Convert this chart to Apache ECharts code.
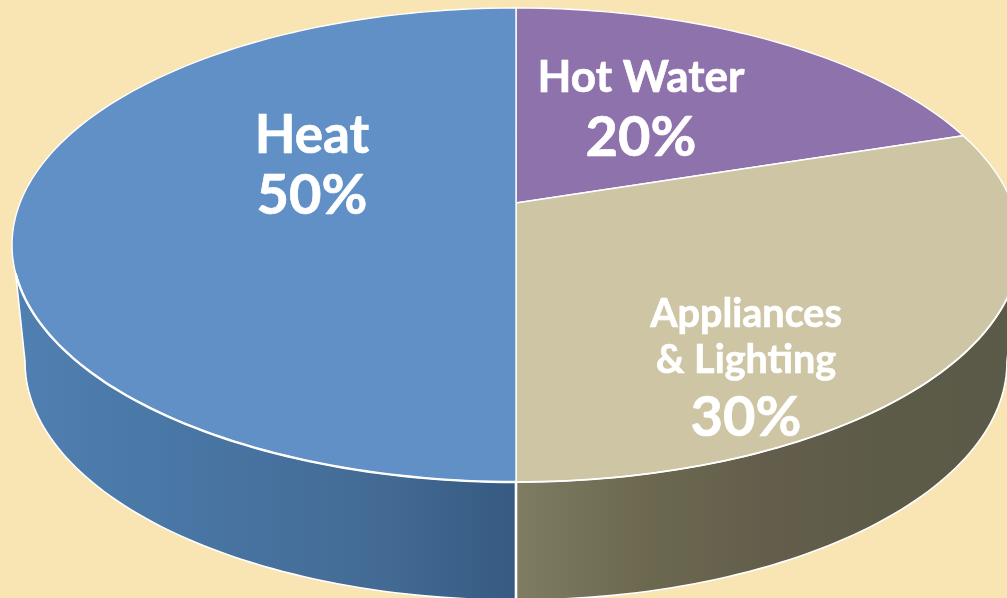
<!DOCTYPE html>
<html>
<head>
<meta charset="utf-8">
<style>html,body{margin:0;padding:0;background:#f8e5b3;overflow:hidden}#c{width:1007px;height:598px}</style>
<script src="https://cdn.jsdelivr.net/npm/echarts@6/dist/echarts.min.js"></script>
</head>
<body>
<div id="c"></div>
<script>
const categories = ['Hot Water', 'Appliances\n& Lighting', 'Heat'];
const values = [20, 30, 50];

const topColors = ['#8e72ac', '#cdc5a4', '#6090c6'];
const sideStops = [null,
  ['#7e7c62', '#6c6950', '#635e4b', '#5c5b48', '#5b5a48'],
  ['#507fb1', '#4a79a8', '#47719e', '#426a93', '#365a82']];
const labelBoxes = [
  {x: 641, nameY: 78, valueY: 138, nameSize: 44, valueSize: 56, lineH: 44},
  {x: 746, nameY: 314, valueY: 418, nameSize: 39.5, valueSize: 56, lineH: 46},
  {x: 312, nameY: 136, valueY: 196, nameSize: 53, valueSize: 56, lineH: 50}
];

const CX = 516, APEX_Y = 203;
const P = 100;
const K = 0.1772, A = -193.6, B = 496;
const TOP_CY = 245, TOP_RY = 237, TOP_RX = 504;
const BOT_CY = 362, BOT_RY = 238, BOT_RX = 491;
const TOP_FRONT = [29.7, 70.3], BOT_FRONT = [27.8, 72.2];

let acc = 0;
const rows = values.map((v, i) => { const r = [acc, acc + v, i]; acc += v; return r; });

function topPoint(api, v) {
  const p = api.coord([1, v]);
  const X = (p[0] - CX) / P, Y = (APEX_Y - p[1]) / P;
  const d = 1 + K * Y;
  return [CX + B * X / d, (A * Y + APEX_Y) / d];
}
function botPoint(api, v) {
  const q = topPoint(api, v);
  return [CX + (q[0] - CX) * BOT_RX / TOP_RX, BOT_CY + (q[1] - TOP_CY) * BOT_RY / TOP_RY];
}
function arc(fn, api, a, b) {
  const pts = [], n = Math.max(2, Math.ceil(Math.abs(b - a) * 3));
  for (let i = 0; i <= n; i++) pts.push(fn(api, a + (b - a) * i / n));
  return pts;
}

function renderSide(params, api) {
  const s = api.value(0), e = api.value(1), i = api.value(2);
  const a1 = Math.max(s, TOP_FRONT[0]), b1 = Math.min(e, TOP_FRONT[1]);
  const a2 = Math.max(s, BOT_FRONT[0]), b2 = Math.min(e, BOT_FRONT[1]);
  if (a1 >= b1 || !sideStops[i]) return {type: 'group', children: []};
  const up = arc(topPoint, api, a1, b1), low = arc(botPoint, api, b2, a2);
  const stops = sideStops[i];
  const sideFill = new echarts.graphic.LinearGradient(0, 0, 1, 0, stops.map((c, k) => ({offset: k / (stops.length - 1), color: c})));
  const outer = i === 2 ? [up[up.length - 1]].concat(low) : low.concat([up[0]]);
  return {type: 'group', children: [
    {type: 'polygon', shape: {points: up.concat(low)}, style: {fill: sideFill, stroke: null}},
    {type: 'polyline', shape: {points: outer}, style: {fill: null, stroke: '#ffffff', lineWidth: 1.6}}
  ]};
}

function renderTop(params, api) {
  const s = api.value(0), e = api.value(1), i = api.value(2);
  const apex = api.coord([0, s]);
  const edge = arc(topPoint, api, s, e);
  const kids = [{type: 'polygon', shape: {points: [apex].concat(edge)},
    style: {fill: topColors[i], stroke: '#ffffff', lineWidth: 1.4, lineJoin: 'round'}}];
  const fa = Math.max(s, TOP_FRONT[0]), fb = Math.min(e, TOP_FRONT[1]);
  if (fa < fb) kids.push({type: 'polyline', shape: {points: arc(topPoint, api, fa, fb)},
    style: {fill: null, stroke: '#ffffff', lineWidth: i === 2 ? 2.4 : 1.8}});
  if (Math.abs(e - 50) < 1e-6) {
    const t = topPoint(api, e), b = botPoint(api, e);
    kids.push({type: 'line', shape: {x1: t[0], y1: t[1], x2: b[0], y2: b[1]},
      style: {stroke: '#ffffff', lineWidth: 2.6}});
  }
  const box = labelBoxes[i];
  const shadow = {fill: '#ffffff', stroke: '#ffffff', lineWidth: 0.7, fontFamily: 'Lato', fontWeight: 700, textAlign: 'center', textVerticalAlign: 'middle',
    shadowColor: 'rgba(40,40,40,0.55)', shadowBlur: 5, shadowOffsetX: 1.5, shadowOffsetY: 1.5};
  categories[i].split('\n').forEach((line, k) => {
    kids.push({type: 'text', style: Object.assign({}, shadow, {text: line, x: box.x, y: box.nameY + k * box.lineH, fontSize: box.nameSize})});
  });
  kids.push({type: 'text', style: Object.assign({}, shadow, {text: values[i] + '%', x: box.x, y: box.valueY, fontSize: box.valueSize})});
  return {type: 'group', children: kids};
}

const chart = echarts.init(document.getElementById('c'), null, {renderer: 'canvas'});
chart.setOption({
  animation: false,
  backgroundColor: '#f8e5b3',
  polar: {center: [CX, APEX_Y], radius: P},
  angleAxis: {type: 'value', min: 0, max: 100, startAngle: 90, clockwise: true, show: false},
  radiusAxis: {type: 'value', min: 0, max: 1, show: false},
  series: [
    {type: 'custom', coordinateSystem: 'polar', renderItem: renderSide, data: rows, clip: false, silent: true, z: 1},
    {type: 'custom', coordinateSystem: 'polar', renderItem: renderTop, data: rows, clip: false, silent: true, z: 2}
  ]
});
</script>
</body>
</html>
